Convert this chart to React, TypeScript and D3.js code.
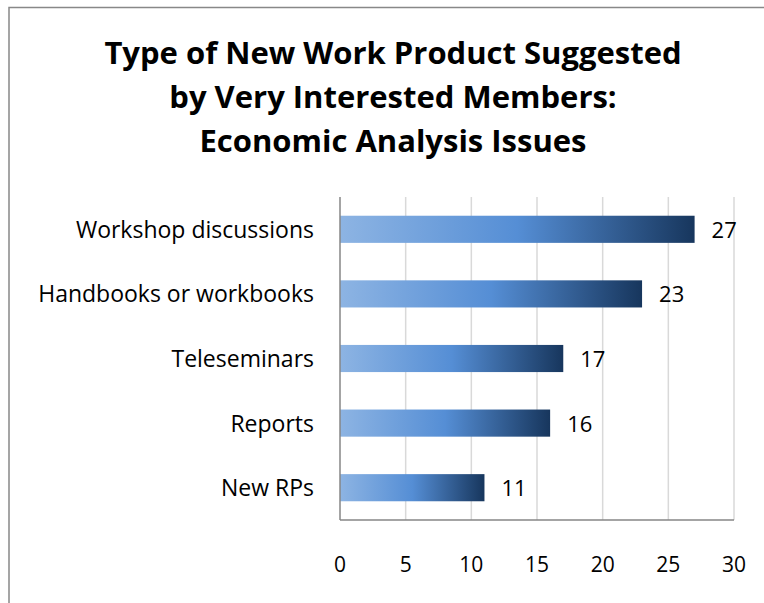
import React from "react";
import * as d3 from "d3";

const categories = ["Workshop discussions", "Handbooks or workbooks", "Teleseminars", "Reports", "New RPs"];
const values = [27, 23, 17, 16, 11];
const xTicks = [0, 5, 10, 15, 20, 25, 30];
const titleLines = ["Type of New Work Product Suggested", "by Very Interested Members:", "Economic Analysis Issues"];

const W = 764, H = 603;
const plot = { left: 340, right: 734, top: 197, bottom: 520 };
const FONT = "'Open Sans', Lato, sans-serif";

export default function App() {
  const x = d3.scaleLinear().domain([0, 30]).range([plot.left, plot.right]);
  const y = d3.scaleBand<string>().domain(categories).range([plot.top, plot.bottom]).paddingInner(0.58).paddingOuter(0.29);
  return (
    <svg width={W} height={H} style={{ position: "absolute", left: 0, top: 0, display: "block" }}>
      <defs>
        <linearGradient id="barGrad" x1="0" y1="0" x2="1" y2="0">
          <stop offset="0%" stopColor="#8db4e3" />
          <stop offset="50%" stopColor="#558ed5" />
          <stop offset="100%" stopColor="#17365d" />
        </linearGradient>
      </defs>
      <rect x={0} y={0} width={W} height={H} fill="#fff" />
      <rect x={9} y={7.5} width={W + 20} height={H + 20} fill="none" stroke="#888" strokeWidth={1.5} />
      {titleLines.map((t, i) => (
        <text key={t} x={393} y={64 + i * 44} textAnchor="middle" fontFamily={FONT} fontWeight="bold" fontSize={31} fill="#000">{t}</text>
      ))}
      {xTicks.slice(1).map((t) => (
        <line key={t} x1={x(t)} x2={x(t)} y1={plot.top} y2={plot.bottom} stroke="#d9d9d9" strokeWidth={1.5} />
      ))}
      {categories.map((c, i) => (
        <g key={c}>
          <rect x={x(0)} y={y(c)!} width={x(values[i]) - x(0)} height={y.bandwidth()} fill="url(#barGrad)" />
          <text x={x(values[i]) + 17} y={y(c)! + y.bandwidth() / 2 + 8.5} fontFamily={FONT} fontSize={22} fill="#000">{values[i]}</text>
          <text x={314} y={y(c)! + y.bandwidth() / 2 + 8.5} textAnchor="end" fontFamily={FONT} fontSize={23} fill="#000">{c}</text>
        </g>
      ))}
      <line x1={plot.left} x2={plot.left} y1={plot.top} y2={plot.bottom} stroke="#868686" strokeWidth={1.5} />
      <line x1={plot.left} x2={plot.right} y1={plot.bottom} y2={plot.bottom} stroke="#868686" strokeWidth={1.5} />
      {xTicks.map((t) => (
        <text key={t} x={x(t)} y={572} textAnchor="middle" fontFamily={FONT} fontSize={21} fill="#000">{t}</text>
      ))}
    </svg>
  );
}
